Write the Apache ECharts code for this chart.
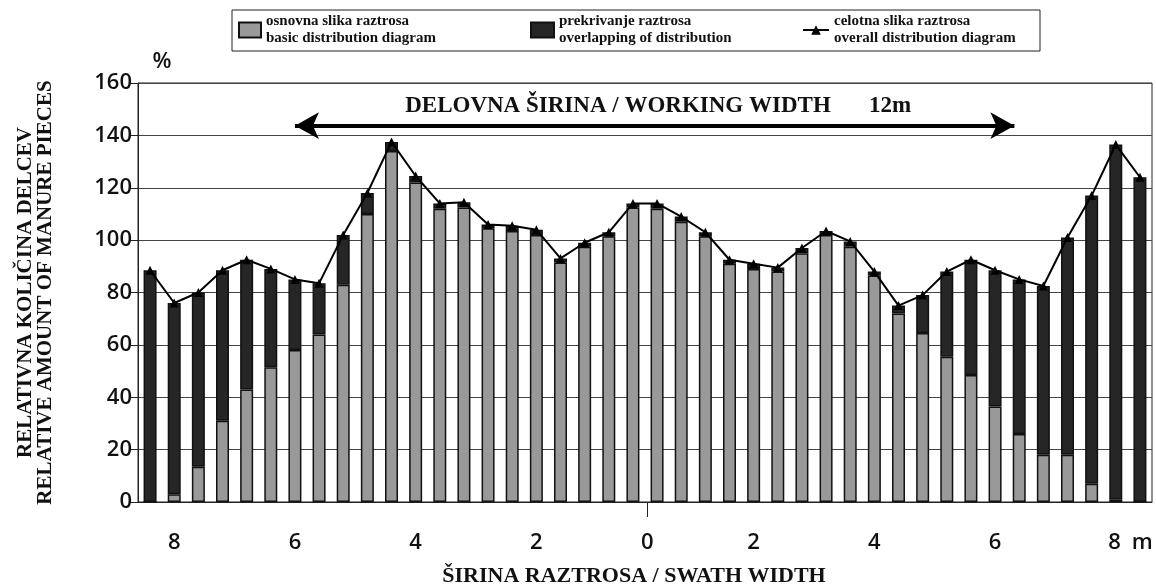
<!DOCTYPE html>
<html>
<head>
<meta charset="utf-8">
<script src="https://cdn.jsdelivr.net/npm/echarts@6/dist/echarts.min.js"></script>
<style>
  html, body { margin: 0; padding: 0; background: #fff; }
  #chart { width: 1156px; height: 585px; }
</style>
</head>
<body>
<div id="chart"></div>
<script>
var totalVals = [88.5, 76, 80, 88.5, 92.5, 89, 85, 83.5, 102, 118, 137.5, 124.5, 114, 114.5, 106, 105.5, 104, 93, 99, 103, 114,
                 114, 109, 103, 92.5, 91, 89.5, 97, 103.5, 99.5, 88, 75, 79, 88, 92.5, 88.5, 85, 82.5, 101, 117, 136.5, 124];
var basicVals = [0, 3, 13.5, 31, 43, 51.5, 58, 64, 83, 110, 134, 122, 112, 112.5, 104.5, 103.5, 102, 91.5, 97.5, 101.5, 112.5,
                 112, 107, 101.5, 91, 89, 88, 95, 102, 97.5, 86.5, 72, 64.5, 55.5, 48.5, 36.5, 26, 18, 18, 7, 1, 0];

// tick labels of the swath axis (position counted in bar slots)
var xTickPos    = [1.5, 6.5, 11.5, 16.5, 21.1, 25.5, 30.5, 35.5, 40.45, 41.6];
var xTickLabels = ['8', '6', '4', '2', '0', '2', '4', '6', '8', 'm'];

// working width arrow (bar slots, %)
var arrowFrom = 6.5, arrowTo = 36.3, arrowLevel = 143.7;

var names = ['osnovna slika raztrosa\nbasic distribution diagram',
             'prekrivanje raztrosa\noverlapping of distribution',
             'celotna slika raztrosa\noverall distribution diagram'];

var cats = [];
var overlapVals = [];
var linePts = [];
for (var i = 0; i < totalVals.length; i++) {
  cats.push(String(i + 1));
  overlapVals.push(+(totalVals[i] - basicVals[i]).toFixed(1));
  linePts.push([i + 0.5, totalVals[i]]);
}

var serif = 'Liberation Serif';
var sans = 'Open Sans';

var legendText = { fontFamily: serif, fontWeight: 'bold', fontSize: 15, lineHeight: 17, color: '#111' };

var chart = echarts.init(document.getElementById('chart'));

var option = {
  animation: false,
  backgroundColor: '#fff',
  grid: { left: 138, right: 4, top: 83, bottom: 83, outerBoundsMode: 'none', show: true, borderColor: '#222', borderWidth: 1 },
  legend: [
    { data: [{ name: names[0], icon: 'rect' }], left: 238, top: 13, itemWidth: 22, itemHeight: 15, padding: 0, textStyle: legendText },
    { data: [{ name: names[1], icon: 'rect' }], left: 530, top: 13, itemWidth: 23, itemHeight: 15, padding: 0, textStyle: legendText },
    { data: [names[2]], left: 802, top: 13, itemWidth: 26, itemHeight: 12, padding: 0, textStyle: legendText }
  ],
  xAxis: [
    {
      type: 'category',
      data: cats,
      axisLine: { lineStyle: { color: '#222', width: 1 } },
      axisTick: { show: false },
      axisLabel: { show: false }
    },
    {
      type: 'value',
      position: 'bottom',
      min: 0,
      max: 42,
      axisLine: { show: false },
      splitLine: { show: false },
      axisTick: { show: true, customValues: [21.1], length: 15, lineStyle: { color: '#222' } },
      axisLabel: {
        customValues: xTickPos,
        margin: 30,
        fontFamily: sans,
        fontWeight: 600,
        fontSize: 22,
        color: '#111',
        formatter: function (v) {
          var k = xTickPos.indexOf(v);
          return k >= 0 ? xTickLabels[k] : '';
        }
      },
      name: 'ŠIRINA RAZTROSA / SWATH WIDTH',
      nameLocation: 'middle',
      nameGap: 63,
      nameTextStyle: { fontFamily: serif, fontWeight: 'bold', fontSize: 22, color: '#111', padding: [0, 22, 0, 0] }
    }
  ],
  yAxis: {
    type: 'value',
    min: 0,
    max: 160,
    interval: 20,
    axisLine: { show: true, lineStyle: { color: '#222' } },
    axisTick: { show: true, length: 9, lineStyle: { color: '#222' } },
    axisLabel: { margin: 6, fontFamily: sans, fontWeight: 600, fontSize: 22, color: '#111' },
    splitLine: { lineStyle: { color: '#444', width: 1 } },
    name: 'RELATIVNA KOLIČINA DELCEV\nRELATIVE AMOUNT OF MANURE PIECES',
    nameLocation: 'middle',
    nameRotate: 90,
    nameGap: 82,
    nameTextStyle: { fontFamily: serif, fontWeight: 'bold', fontSize: 21, lineHeight: 20, color: '#111' }
  },
  graphic: [
    { type: 'rect', shape: { x: 232, y: 10, width: 808, height: 41 }, style: { fill: null, stroke: '#222', lineWidth: 1 } },
    { type: 'text', x: 162, y: 62, style: { text: '%', fontFamily: sans, fontWeight: 600, fontSize: 22, fill: '#111', align: 'center', verticalAlign: 'middle' } },
    { type: 'text', x: 618, y: 106, style: { text: 'DELOVNA ŠIRINA / WORKING WIDTH', fontFamily: serif, fontWeight: 'bold', fontSize: 23, fill: '#111', align: 'center', verticalAlign: 'middle' } },
    { type: 'text', x: 890, y: 106, style: { text: '12m', fontFamily: serif, fontWeight: 'bold', fontSize: 23, fill: '#111', align: 'center', verticalAlign: 'middle' } }
  ],
  series: [
    {
      name: names[0],
      type: 'bar',
      stack: 'all',
      xAxisIndex: 0,
      barWidth: 13,
      data: basicVals,
      itemStyle: { color: '#999', borderColor: '#111', borderWidth: 1.5 }
    },
    {
      name: names[1],
      type: 'bar',
      stack: 'all',
      xAxisIndex: 0,
      barWidth: 13,
      data: overlapVals,
      itemStyle: { color: '#262626', borderColor: '#111', borderWidth: 1.5 }
    },
    {
      name: names[2],
      type: 'line',
      xAxisIndex: 1,
      data: linePts,
      symbol: 'triangle',
      symbolSize: 9,
      itemStyle: { color: '#000' },
      lineStyle: { color: '#000', width: 2 },
      z: 5,
      markLine: {
        silent: true,
        symbol: ['arrow', 'arrow'],
        symbolSize: [20, 24],
        label: { show: false },
        lineStyle: { color: '#000', width: 4, type: 'solid' },
        data: [[{ coord: [arrowFrom, arrowLevel] }, { coord: [arrowTo, arrowLevel] }]]
      }
    }
  ]
};

chart.setOption(option);
</script>
</body>
</html>
